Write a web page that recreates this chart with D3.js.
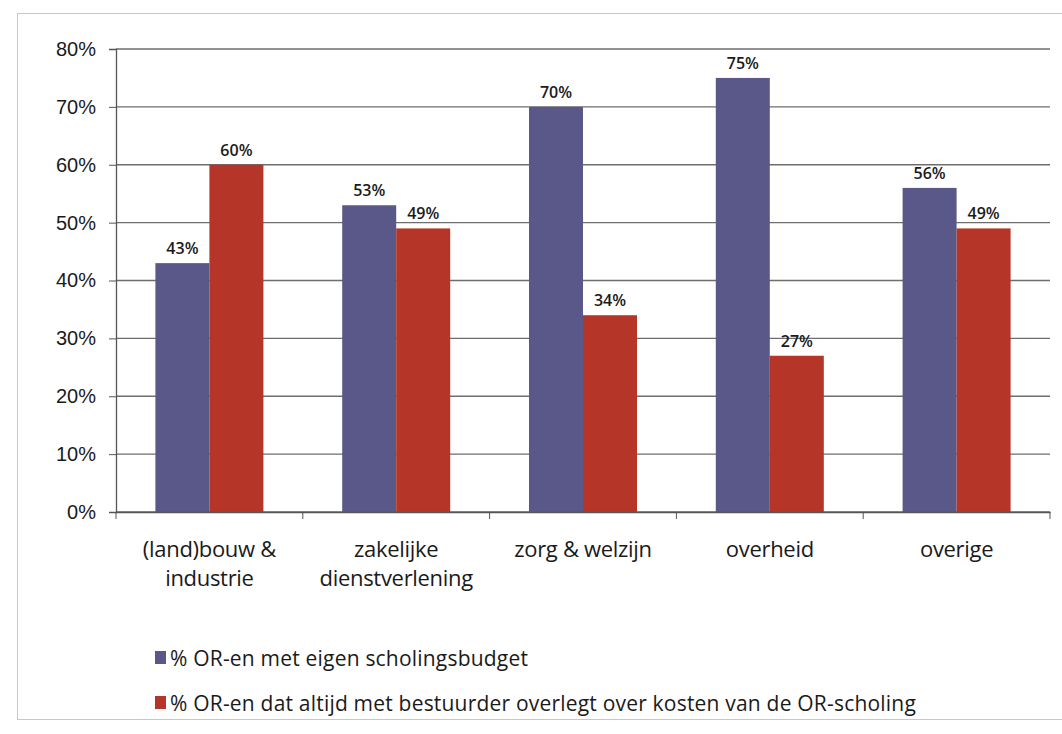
<!DOCTYPE html>
<html>
<head>
<meta charset="utf-8">
<script src="https://cdn.jsdelivr.net/npm/d3@7"></script>
<style>
  body { margin: 0; background: #fff; }
  svg { font-family: "Open Sans", "Noto Sans", sans-serif; }
</style>
</head>
<body>
<svg width="1062" height="734"></svg>
<script>
// data
var categories = [["(land)bouw &", "industrie"], ["zakelijke", "dienstverlening"], ["zorg & welzijn"], ["overheid"], ["overige"]];
var budget = [43, 53, 70, 75, 56];
var overleg = [60, 49, 34, 27, 49];
var seriesNames = ["% OR-en met eigen scholingsbudget", "% OR-en dat altijd met bestuurder overlegt over kosten van de OR-scholing"];
var colors = ["#5a5888", "#b53628"];
var yTicks = [0, 10, 20, 30, 40, 50, 60, 70, 80];

var svg = d3.select("svg");
var margin = {top: 49, left: 116, right: 12, bottom: 222};
var width = 1062 - margin.left - margin.right,
    height = 734 - margin.top - margin.bottom;

// outer frame of the chart object
svg.append("rect")
    .attr("x", 17.5).attr("y", 13.5)
    .attr("width", 1060).attr("height", 706)
    .attr("fill", "none").attr("stroke", "#c8c8c8");

var g = svg.append("g").attr("transform", "translate(" + margin.left + "," + margin.top + ")");

var x = d3.scaleBand().domain(d3.range(categories.length)).range([0, width]);
var y = d3.scaleLinear().domain([0, 80]).range([height, 0]);
var barW = 54;

// gridlines
g.selectAll(".grid").data(yTicks).enter().append("line")
    .attr("x1", 0).attr("x2", width)
    .attr("y1", function(d) { return y(d); }).attr("y2", function(d) { return y(d); })
    .attr("stroke", "#6e6e6e").attr("stroke-width", 1.3);

// y axis
var yAxis = g.append("g")
    .call(d3.axisLeft(y).tickValues(yTicks).tickSize(7).tickPadding(13).tickFormat(function(d) { return d + "%"; }));
yAxis.select(".domain").attr("stroke", "#555").attr("stroke-width", 1.3);
yAxis.selectAll(".tick line").attr("stroke", "#555");
yAxis.selectAll("text").attr("font-size", 20).attr("fill", "#1a1a1a");

// bars
var data = categories.map(function(c, i) { return [budget[i], overleg[i]]; });
var grp = g.selectAll(".cat").data(data).enter().append("g")
    .attr("transform", function(d, i) { return "translate(" + (x(i) + x.bandwidth() / 2) + ",0)"; });

grp.selectAll("rect").data(function(d) { return d; }).enter().append("rect")
    .attr("x", function(d, j) { return j === 0 ? -barW : 0; })
    .attr("width", barW)
    .attr("y", function(d) { return y(d); })
    .attr("height", function(d) { return height - y(d); })
    .attr("fill", function(d, j) { return colors[j]; });

grp.selectAll(".lbl").data(function(d) { return d; }).enter().append("text")
    .attr("x", function(d, j) { return j === 0 ? -barW / 2 : barW / 2; })
    .attr("y", function(d) { return y(d) - 9; })
    .attr("text-anchor", "middle")
    .attr("font-size", 16).attr("font-weight", 600).attr("fill", "#1a1a1a")
    .text(function(d) { return d + "%"; });

// x axis
var xAxis = g.append("g").attr("transform", "translate(0," + height + ")")
    .call(d3.axisBottom(x).tickSize(0).tickFormat(""));
xAxis.select(".domain").attr("stroke", "#555").attr("stroke-width", 1.3);
g.selectAll(".xtick").data(d3.range(categories.length + 1)).enter().append("line")
    .attr("x1", function(i) { return i * x.bandwidth(); }).attr("x2", function(i) { return i * x.bandwidth(); })
    .attr("y1", height).attr("y2", height + 7)
    .attr("stroke", "#555");

var xl = g.selectAll(".xl").data(categories).enter().append("text")
    .attr("text-anchor", "middle")
    .attr("transform", function(d, i) { return "translate(" + (x(i) + x.bandwidth() / 2) + "," + (height + 45) + ")"; })
    .attr("font-size", 22).attr("fill", "#1a1a1a").attr("letter-spacing", -0.3);
xl.selectAll("tspan").data(function(d) { return d; }).enter().append("tspan")
    .attr("x", 0).attr("dy", function(d, k) { return k === 0 ? 0 : 29; })
    .text(function(d) { return d; });

// legend
var leg = svg.selectAll(".leg").data(seriesNames).enter().append("g")
    .attr("transform", function(d, i) { return "translate(155," + (666 + i * 45) + ")"; });
leg.append("rect").attr("x", 0).attr("y", -15).attr("width", 11).attr("height", 13)
    .attr("fill", function(d, i) { return colors[i]; });
leg.append("text").attr("x", 15).attr("y", 0)
    .attr("font-size", 21).attr("fill", "#1a1a1a").attr("letter-spacing", 0.2)
    .text(function(d) { return d; });
</script>
</body>
</html>
